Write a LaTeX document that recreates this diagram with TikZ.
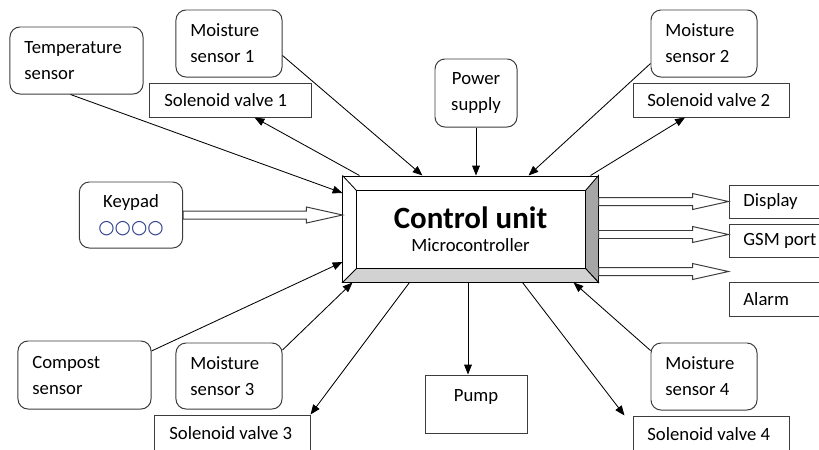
\documentclass[tikz,border=0pt]{standalone}
\usepackage{fontspec}
\setmainfont{Carlito}
\newfontfamily\symfont{DejaVu Sans}
\usepackage{tikz}
\usetikzlibrary{arrows.meta, calc}
\definecolor{padblue}{RGB}{45, 60, 140}
\definecolor{edgegray}{RGB}{60, 60, 60}

\newcommand{\hollowarrow}[2]{%
  \draw[hollow] ($(#1)+(0,-4)$) -- ($(#2)+(-36,-4)$) -- ($(#2)+(-36,-8)$) -- (#2)
    -- ($(#2)+(-36,8)$) -- ($(#2)+(-36,4)$) -- ($(#1)+(0,4)$) -- cycle;}

\begin{document}
\begin{tikzpicture}[x=0.025cm, y=-0.025cm,
  font=\fontsize{13.3}{18.5}\selectfont,
  rbox/.style={draw=edgegray, line width=0.7pt, rounded corners=0.25cm, align=flush left, inner xsep=0.36cm, minimum height=1.675cm, text width=#1},
  sbox/.style={draw=edgegray, line width=0.7pt, align=flush left, inner xsep=0.36cm, minimum height=0.85cm, text width=#1},
  link/.style={line width=0.6pt, -{Triangle[length=7pt, width=5.5pt]}},
  hollow/.style={draw=edgegray, line width=0.7pt, fill=white}
]
  \path[fill=white, use as bounding box] (0,0) rectangle (819,449);
  \clip (0,0) rectangle (819,449);

  % control unit
  \node[draw=black, line width=0.7pt, minimum width=6.375cm, minimum height=2.65cm, align=center, font=\fontsize{13.3}{13.5}\selectfont] (cu) at (470.5,229) {{\fontsize{22}{24}\selectfont\bfseries Control unit}\\[3pt]Microcontroller};
  \coordinate (cuA) at ($(cu.north west)+(14,15)$);
  \coordinate (cuB) at ($(cu.north east)+(-13,15)$);
  \coordinate (cuC) at ($(cu.south east)+(-13,-14)$);
  \coordinate (cuD) at ($(cu.south west)+(14,-14)$);
  \draw[line width=0.6pt, fill=gray!70] (cu.north east) -- (cuB) -- (cuC) -- (cu.south east) -- cycle;
  \draw[line width=0.6pt, fill=gray!35] (cu.south west) -- (cuD) -- (cuC) -- (cu.south east) -- cycle;
  \draw[line width=0.6pt] (cu.north west) -- (cuA) -- (cuD) (cuA) -- (cuB);

  % upper row
  \node[rbox=2.605cm] (temp) at (76.5,60.5) {Temperature\\sensor};
  \node[rbox=1.93cm] (ms1) at (229,43.5) {Moisture\\sensor 1};
  \node[sbox=3.305cm] (sv1) at (230.5,100) {Solenoid valve 1};
  \node[rbox=1.33cm, align=center, minimum height=1.7cm] (power) at (476,93) {Power\\supply};
  \node[rbox=1.93cm] (ms2) at (704,43.5) {Moisture\\sensor 2};
  \node[sbox=3.18cm] (sv2) at (711,100) {Solenoid valve 2};

  % left and right
  \node[rbox=1.93cm, align=center, minimum height=1.65cm, inner xsep=0.325cm] (keypad) at (131,215) {Keypad\\{\symfont\color{padblue}○○○○}};
  \node[sbox=2.03cm, minimum height=0.825cm] (display) at (784,201.5) {Display};
  \node[sbox=2.03cm, minimum height=0.825cm] (gsm) at (784,240.5) {GSM port};
  \node[sbox=2.03cm] (alarm) at (784,299) {Alarm};

  % lower row
  \node[rbox=2.605cm, minimum height=1.7cm] (compost) at (84.5,375) {Compost\\sensor};
  \node[rbox=1.93cm, minimum height=1.65cm] (ms3) at (229,376) {Moisture\\sensor 3};
  \node[sbox=3.155cm, minimum height=0.9cm] (sv3) at (232.5,433) {Solenoid valve 3};
  \node[sbox=1.83cm, align=center, minimum height=1.45cm, text depth=0.45cm] (pump) at (476,404) {Pump};
  \node[rbox=1.93cm] (ms4) at (704,376.5) {Moisture\\sensor 4};
  \node[sbox=3.18cm, minimum height=0.9cm] (sv4) at (711,434) {Solenoid valve 4};

  % connectors
  \draw[link] ([xshift=-0.15cm]temp.south) -- ([yshift=0.9cm]cu.west);
  \draw[link] ([xshift=0.425cm]cu.north west) -- ([xshift=0.6cm]sv1.south);
  \draw[link] ([yshift=-0.3cm]ms1.east) -- ([xshift=-1.2cm]cu.north);
  \draw[link] (power.south) -- (power.south |- cu.north);
  \draw[link] ([yshift=-0.5cm]ms2.west) -- ([xshift=1.45cm]cu.north);
  \draw[link] ([xshift=-0.2cm]cu.north east) -- ([xshift=-0.65cm]sv2.south);
  \draw[link] ([yshift=0.6cm]compost.east) -- ([yshift=-0.825cm]cu.west);
  \draw[link] ([yshift=0.65cm]ms3.east) -- ([xshift=0.25cm]cu.south west);
  \draw[link] ([xshift=1.675cm]cu.south west) -- (sv3.north east);
  \coordinate (pumpIn) at ([xshift=-0.2cm]pump.north);
  \draw[link] (pumpIn |- cu.south) -- (pumpIn);
  \draw[link] ([xshift=-1.9cm]cu.south east) -- ([xshift=-0.2cm]sv4.north west);
  \draw[link] ([yshift=0.65cm]ms4.west) -- ([xshift=-0.625cm]cu.south east);

  % hollow arrows
  \coordinate (kpTip) at (cu.west |- keypad.east);
  \hollowarrow{keypad.east}{kpTip}
  \coordinate (dTip) at (display.west);
  \coordinate (dTail) at (cu.east |- dTip);
  \hollowarrow{dTail}{dTip}
  \coordinate (gTip) at ([yshift=0.15cm]gsm.west);
  \coordinate (gTail) at (cu.east |- gTip);
  \hollowarrow{gTail}{gTip}
  \coordinate (aTip) at ([yshift=0.25cm]alarm.north west);
  \coordinate (aTail) at (cu.east |- aTip);
  \hollowarrow{aTail}{aTip}
\end{tikzpicture}
\end{document}
